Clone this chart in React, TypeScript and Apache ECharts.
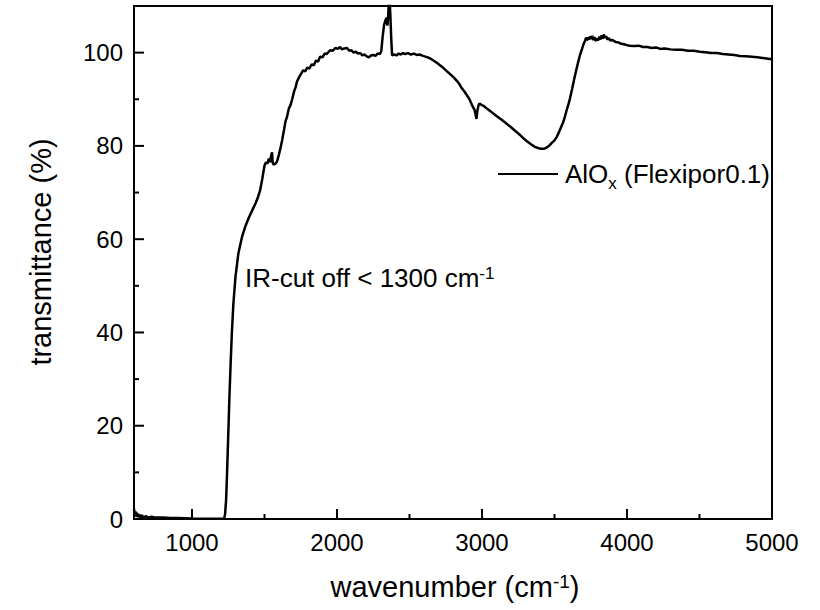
import React, { useEffect, useRef } from "react";
import * as echarts from "echarts";

const wavenumber = [
  600, 605, 610, 615, 620, 628, 635, 645, 655, 665, 680, 700, 720, 750, 800, 850, 900, 1000, 1100, 1200, 1222,
  1228, 1235, 1242, 1250, 1258, 1266, 1275, 1285, 1300, 1320, 1345, 1365, 1390, 1420, 1440, 1455, 1470, 1485,
  1500, 1510, 1520, 1530, 1538, 1545, 1552, 1556, 1562, 1575, 1586, 1600, 1612, 1621, 1635, 1645, 1655, 1668,
  1680, 1690, 1705, 1715, 1724, 1740, 1755, 1766, 1780, 1795, 1810, 1825, 1840, 1855, 1870, 1883, 1900, 1915,
  1930, 1952, 1970, 1990, 2005, 2020, 2035, 2050, 2069, 2085, 2100, 2115, 2130, 2145, 2160, 2175, 2190, 2205,
  2220, 2235, 2250, 2265, 2280, 2295, 2305, 2315, 2325, 2335, 2342, 2348, 2353, 2358, 2363, 2368, 2374, 2380,
  2395, 2410, 2425, 2440, 2455, 2470, 2490, 2510, 2530, 2550, 2570, 2593, 2615, 2641, 2665, 2690, 2710, 2731,
  2755, 2780, 2805, 2828, 2845, 2860, 2880, 2897, 2910, 2925, 2938, 2948, 2955, 2962, 2968, 2975, 2982, 2995,
  3010, 3034, 3060, 3100, 3140, 3172, 3200, 3230, 3260, 3283, 3310, 3340, 3365, 3390, 3410, 3430, 3448, 3465,
  3480, 3500, 3517, 3530, 3545, 3559, 3572, 3585, 3597, 3607, 3620, 3635, 3648, 3662, 3675, 3690, 3700, 3710,
  3718, 3724, 3730, 3738, 3745, 3752, 3760, 3768, 3775, 3785, 3793, 3800, 3810, 3818, 3825, 3833, 3840, 3848,
  3856, 3865, 3875, 3885, 3900, 3920, 3940, 3960, 3980, 4000, 4021, 4050, 4080, 4110, 4140, 4170, 4200, 4230,
  4260, 4300, 4340, 4380, 4420, 4460, 4503, 4540, 4580, 4620, 4660, 4700, 4740, 4779, 4820, 4860, 4900, 4950,
  5000,
];

const transmittance = [
  2.2, 0.6, 1.6, 0.5, 1.3, 0.4, 1.0, 0.3, 0.8, 0.3, 0.6, 0.3, 0.5, 0.3, 0.3, 0.2, 0.2, 0.1, 0.05, 0.05, 0.1,
  1, 4, 10, 18, 26, 33, 40, 46, 52, 57, 60.5, 62.5, 64.5, 66.5, 67.8, 69, 70.5, 73,
  75.8, 76.5, 76.2, 77.3, 76.5, 77.8, 78.6, 76.5, 76, 76.2, 76.6, 78.2, 79.8, 81.1, 83.5, 85.3, 86.2, 88,
  88.8, 89.9, 91.8, 92.6, 93.8, 94.8, 95.6, 96.2, 96.0, 96.8, 96.6, 97.5, 97.3, 98.3, 98.1, 99.1, 99.0, 99.8,
  99.7, 100.5, 100.4, 101.0, 100.8, 101.2, 100.7, 100.9, 101.0, 100.4, 100.5, 100.0, 100.2, 99.8, 99.9, 99.4, 99.6, 99.2,
  99.0, 99.4, 99.5, 99.3, 99.8, 99.7, 100.2, 103.5, 106, 107, 107.5, 105.8, 108, 111, 111, 108, 103, 99.4,
  99.6, 99.4, 99.8, 99.6, 99.9, 99.7, 99.9, 99.6, 99.8, 99.5, 99.6, 99.3, 99.1, 98.8, 98.3, 97.8, 97.3, 96.8,
  96.1, 95.4, 94.7, 93.9, 93.2, 92.4, 91.6, 90.8, 90.2, 89.2, 88.3, 87.8, 86.8, 85.8, 87.5, 88.6, 89.1, 88.8,
  88.6, 88.0, 87.4, 86.4, 85.5, 84.7, 84.0, 83.2, 82.4, 81.7, 81.0, 80.3, 79.8, 79.5, 79.4, 79.4, 79.7, 80.1,
  80.6, 81.2, 82.0, 82.9, 84.0, 85.0, 86.3, 87.8, 89.0, 90.2, 92.0, 94.2, 96.0, 97.8, 99.4, 100.8, 101.8, 102.5,
  103.2, 102.6, 103.3, 102.8, 103.5, 102.9, 103.6, 102.7, 103.3, 102.5, 103.0, 102.6, 103.4, 102.8, 103.7, 103.0, 103.9, 103.2,
  103.5, 102.8, 103.1, 102.6, 102.7, 102.3, 102.2, 101.9, 101.8, 101.6, 101.5, 101.4, 101.5, 101.2, 101.2, 101.0, 101.1, 100.8,
  100.9, 100.7, 100.6, 100.6, 100.4, 100.4, 100.2, 100.1, 99.9, 99.9, 99.7, 99.6, 99.5, 99.3, 99.2, 99.1, 99.0, 98.8,
  98.6,
];

const xMin = 600;
const xMax = 5000;
const yMin = 0;
const yMax = 110;
const xMajorStep = 1000;
const yMajorStep = 20;
const xMajorTicks = [1000, 2000, 3000, 4000, 5000];
const xMinorTicks = [1500, 2500, 3500, 4500];
const yMajorTicks = [0, 20, 40, 60, 80, 100];
const yMinorTicks = [10, 30, 50, 70, 90];
const seriesName = "AlOx (Flexipor0.1)";

const FONT = '"Liberation Sans", Arial, Helvetica, sans-serif';

export default function App() {
  const ref = useRef<HTMLDivElement>(null);

  useEffect(() => {
    if (!ref.current) return;
    const chart = echarts.init(ref.current, null, { renderer: "svg" });
    const data = wavenumber.map((w, i) => [w, transmittance[i]]);
    const plain = (v: number) => String(v);

    // inward tick marks, positioned through the axes' own scales (api.coord)
    const xTickSeries = (values: number[], len: number) => ({
      type: "custom",
      silent: true,
      clip: false,
      xAxisIndex: 0,
      yAxisIndex: 0,
      data: values.map((v) => [v, yMin]),
      renderItem: (_params: any, api: any) => {
        const p = api.coord([api.value(0), yMin]);
        return {
          type: "line",
          shape: { x1: p[0], y1: p[1], x2: p[0], y2: p[1] - len },
          style: { stroke: "#000", lineWidth: 2 },
        };
      },
    });
    const yTickSeries = (values: number[], len: number) => ({
      type: "custom",
      silent: true,
      clip: false,
      xAxisIndex: 0,
      yAxisIndex: 0,
      data: values.map((v) => [xMin, v]),
      renderItem: (_params: any, api: any) => {
        const p = api.coord([xMin, api.value(1)]);
        return {
          type: "line",
          shape: { x1: p[0], y1: p[1], x2: p[0] + len, y2: p[1] },
          style: { stroke: "#000", lineWidth: 2 },
        };
      },
    });

    chart.setOption({
      animation: false,
      grid: {
        left: 134,
        right: 48,
        top: 6,
        bottom: 91,
        show: true,
        borderColor: "#000",
        borderWidth: 2,
        backgroundColor: "transparent",
      },
      xAxis: {
        type: "value",
        min: xMin,
        max: xMax,
        minInterval: xMajorStep,
        maxInterval: xMajorStep,
        axisLine: { show: true, onZero: false, lineStyle: { color: "#000", width: 2 } },
        axisTick: { show: false },
        axisLabel: {
          color: "#000",
          fontSize: 24,
          fontFamily: FONT,
          margin: 11,
          showMinLabel: false,
          formatter: plain,
        },
        splitLine: { show: false },
      },
      yAxis: {
        type: "value",
        min: yMin,
        max: yMax,
        interval: yMajorStep,
        axisLine: { show: true, onZero: false, lineStyle: { color: "#000", width: 2 } },
        axisTick: { show: false },
        axisLabel: {
          color: "#000",
          fontSize: 24,
          fontFamily: FONT,
          margin: 11,
          showMaxLabel: false,
          formatter: plain,
        },
        splitLine: { show: false },
      },
      legend: {
        show: true,
        selectedMode: false,
        left: 493,
        top: 156,
        itemWidth: 60,
        itemHeight: 2,
        data: [{ name: seriesName, icon: "rect" }],
        formatter: () => "{a|AlO}{sub|x}{a| (Flexipor0.1)}",
        textStyle: {
          color: "#000",
          fontSize: 26,
          fontFamily: FONT,
          padding: [0, 0, 0, 2],
          rich: {
            a: { fontSize: 26, fontFamily: FONT, color: "#000" },
            sub: { fontSize: 17, fontFamily: FONT, color: "#000", padding: [18, 0, 0, 0] },
          },
        },
      },
      series: [
        {
          name: seriesName,
          type: "line",
          data,
          showSymbol: false,
          symbol: "none",
          clip: true,
          lineStyle: { color: "#000", width: 2.5 },
          itemStyle: { color: "#000" },
        },
        xTickSeries(xMajorTicks, 10),
        xTickSeries(xMinorTicks, 5),
        yTickSeries(yMajorTicks, 10),
        yTickSeries(yMinorTicks, 5),
      ],
      graphic: [
        {
          type: "text",
          x: 41,
          y: 252,
          rotation: Math.PI / 2,
          style: {
            text: "transmittance (%)",
            fontSize: 29,
            fontFamily: FONT,
            fill: "#000",
            align: "center",
            verticalAlign: "middle",
            textAlign: "center",
            textVerticalAlign: "middle",
          },
        },
        {
          type: "text",
          x: 455,
          y: 587,
          style: {
            text: "wavenumber (cm{sup|-1})",
            fontSize: 29,
            fontFamily: FONT,
            fill: "#000",
            align: "center",
            verticalAlign: "middle",
            textAlign: "center",
            textVerticalAlign: "middle",
            rich: {
              sup: { fontSize: 19, fontFamily: FONT, fill: "#000", padding: [0, 0, 11, 0] },
            },
          },
        },
        {
          type: "text",
          x: 245,
          y: 278,
          style: {
            text: "IR-cut off < 1300 cm{sup|-1}",
            fontSize: 26,
            fontFamily: FONT,
            fill: "#000",
            align: "left",
            verticalAlign: "middle",
            textAlign: "left",
            textVerticalAlign: "middle",
            rich: {
              sup: { fontSize: 17, fontFamily: FONT, fill: "#000", padding: [0, 0, 10, 0] },
            },
          },
        },
      ],
    });

    return () => chart.dispose();
  }, []);

  return (
    <div
      ref={ref}
      style={{ position: "fixed", left: 0, top: 0, width: 820, height: 610, background: "#fff" }}
    />
  );
}
